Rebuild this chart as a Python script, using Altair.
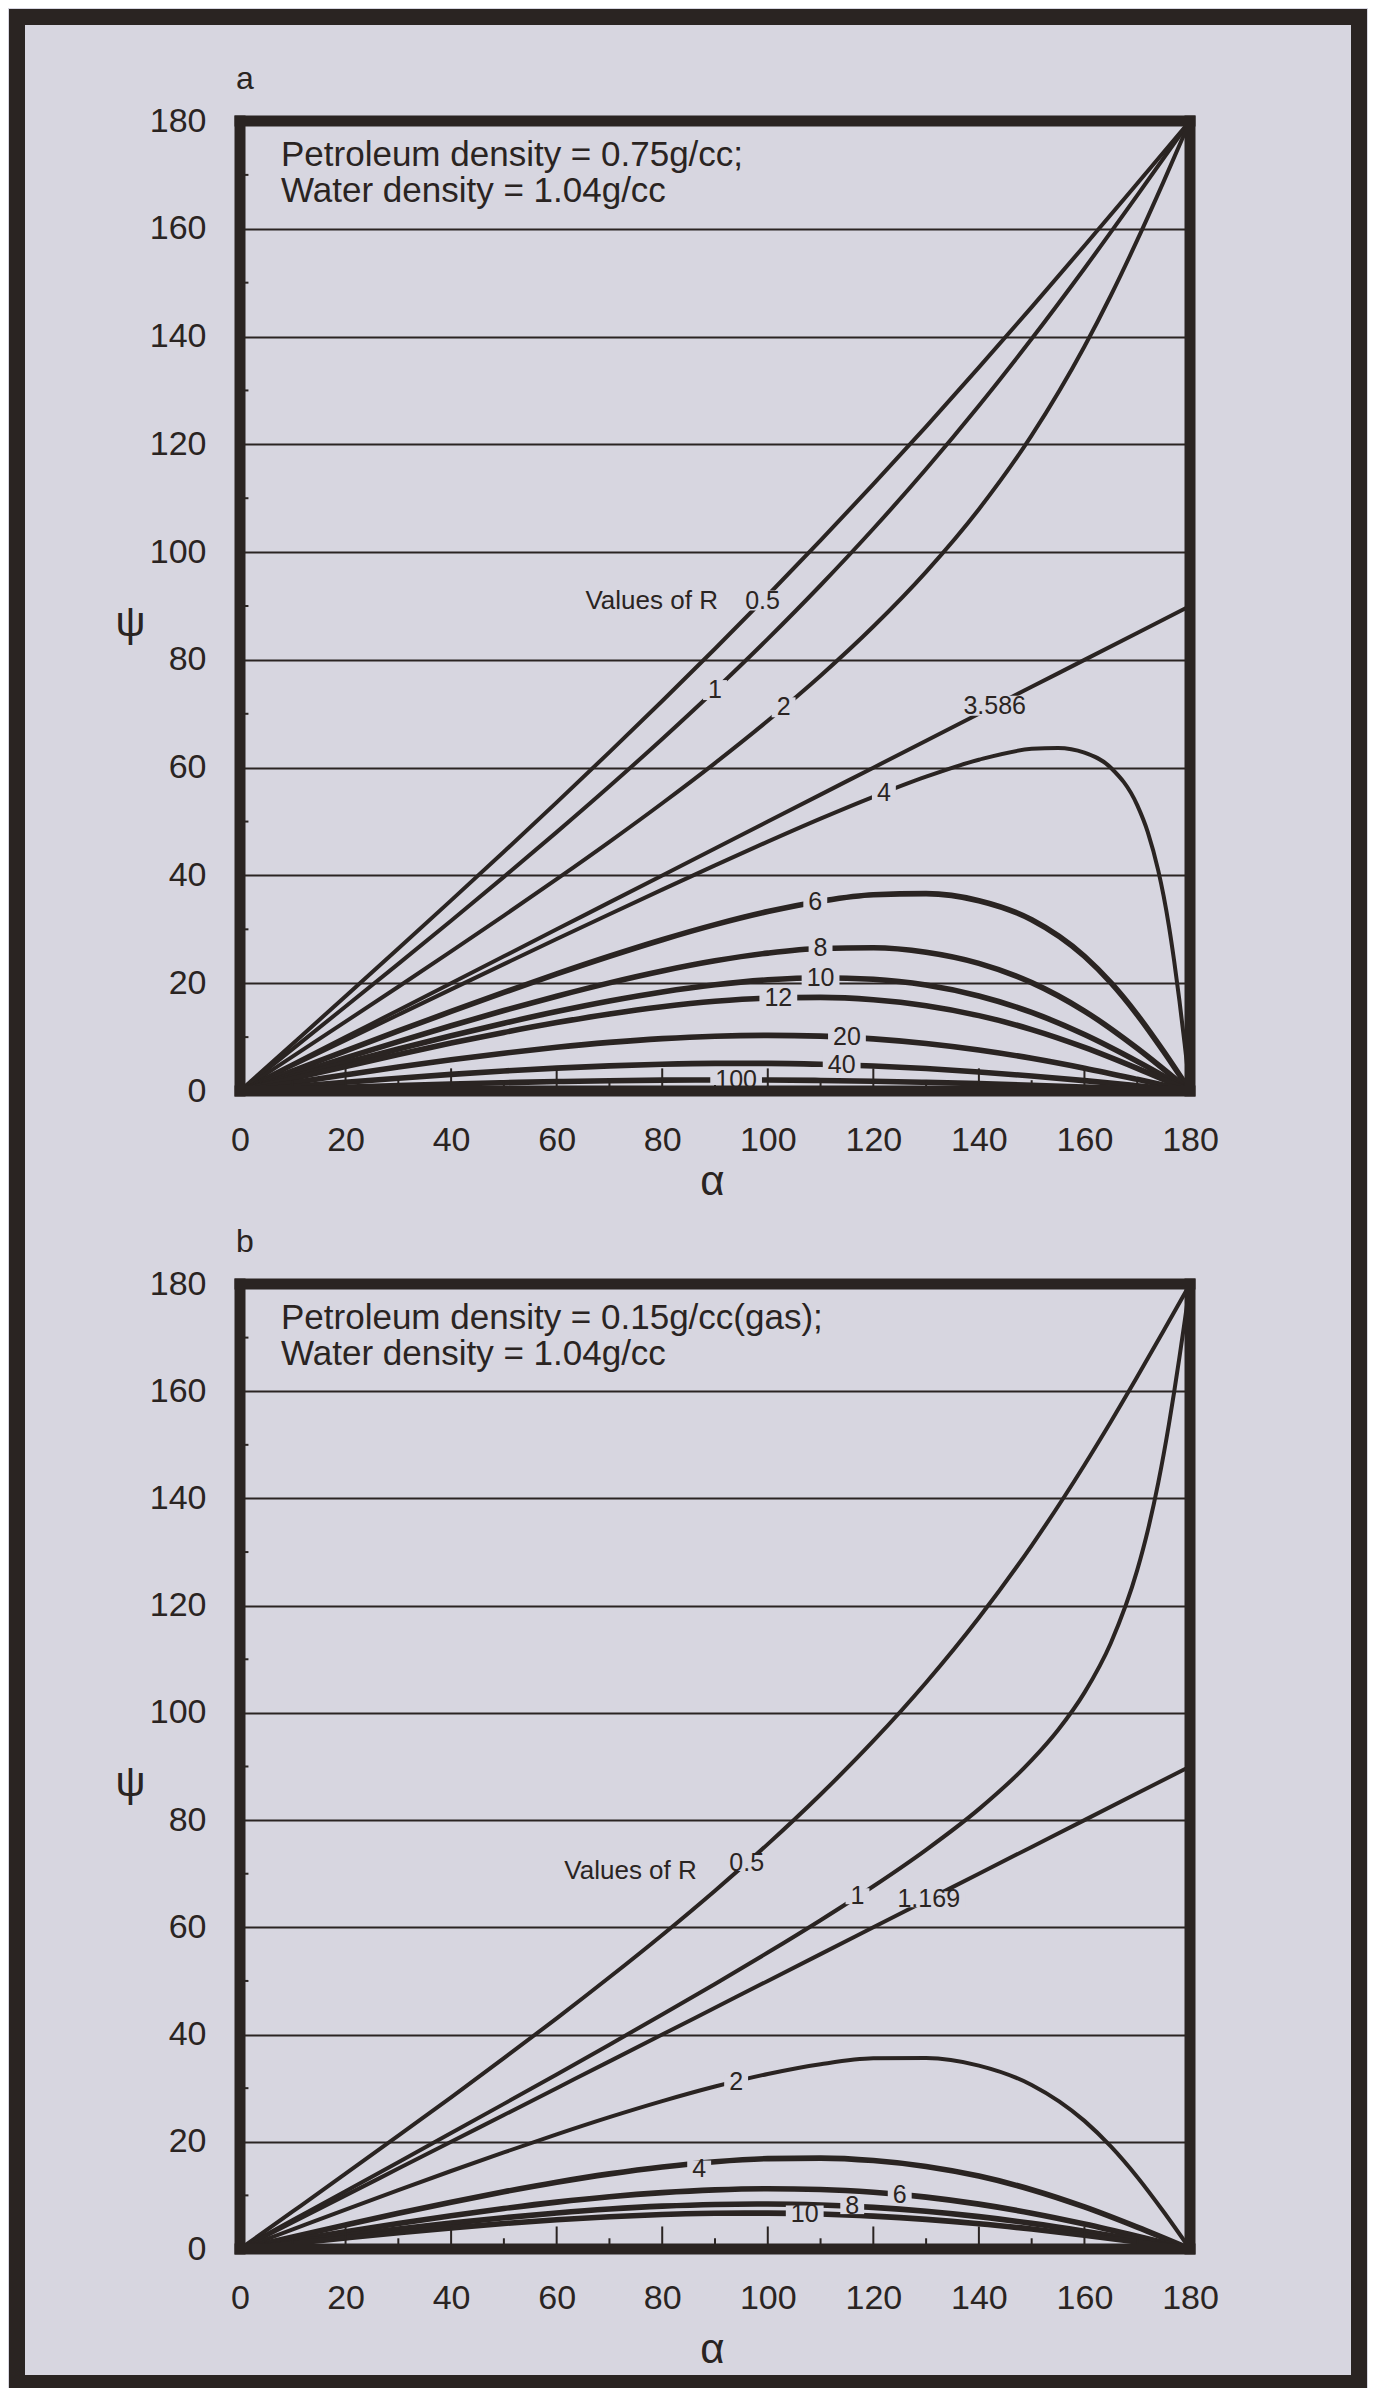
import altair as alt
import pandas as pd

BG = "#d7d6e0"
INK = "#2a2422"
FONT = "Liberation Sans"

# ---------------- data ----------------
AX_TICKS = [0, 20, 40, 60, 80, 100, 120, 140, 160, 180]
A_GRID = [0, 10, 20, 30, 40, 50, 60, 70, 80, 90, 100, 110, 120, 130, 140, 150, 160, 170, 180]
A_EXT = [0, 10, 20, 30, 40, 50, 60, 70, 80, 90, 100, 110, 120, 130, 140, 150, 160, 165, 170, 175, 180]
A_A4 = [0, 10, 20, 30, 40, 50, 60, 70, 80, 90, 100, 110, 120, 130, 140, 150, 155, 160, 165,
        170, 172, 174, 175, 176, 177, 178, 179, 180]
A_B1 = [0, 10, 20, 30, 40, 50, 60, 70, 80, 90, 100, 110, 120, 130, 140, 150, 155, 160, 165,
        170, 172, 174, 176, 177, 178, 179, 180]

# panel a  (petroleum 0.75 g/cc)
PA_R05 = [0, 8.78, 17.58, 26.44, 35.37, 44.40, 53.56, 62.88, 72.37, 82.06, 91.99, 102.17,
          112.6, 123.3, 134.27, 145.46, 156.86, 168.4, 180]
PA_R1 = [0, 7.82, 15.68, 23.60, 31.60, 39.73, 48.04, 56.55, 65.33, 74.42, 83.90, 93.85,
         104.33, 115.42, 127.16, 139.59, 152.64, 166.19, 180]
PA_R2 = [0, 6.42, 12.87, 19.35, 25.90, 32.54, 39.31, 46.24, 53.40, 60.85, 68.70, 77.07,
         86.19, 96.34, 107.96, 121.66, 138.16, 147.62, 157.88, 168.75, 180]
PA_R3586 = [0, 5, 10, 15, 20, 25, 30, 35, 40, 45, 50, 55, 60, 65, 70, 75, 80, 85, 90]
PA_R4 = [0, 4.73, 9.45, 14.16, 18.86, 23.54, 28.20, 32.81, 37.38, 41.88, 46.28, 50.55, 54.60,
         58.32, 61.47, 63.49, 63.67, 62.81, 59.99, 53.05, 48.05, 40.84, 36.19, 30.65, 24.12,
         16.75, 8.61, 0]
PA_R6 = [0, 3.74, 7.46, 11.14, 14.76, 18.30, 21.73, 25.00, 28.07, 30.87, 33.29, 35.22, 36.43,
         36.63, 35.32, 31.78, 25.00, 20.10, 14.16, 7.34, 0]
PA_R8 = [0, 3.09, 6.16, 9.17, 12.11, 14.93, 17.59, 20.06, 22.27, 24.15, 25.59, 26.45, 26.58,
         25.75, 23.69, 20.12, 14.84, 7.93, 0]
PA_R10 = [0, 2.63, 5.24, 7.79, 10.25, 12.58, 14.75, 16.71, 18.39, 19.72, 20.63, 21.01, 20.73,
          19.65, 17.63, 14.58, 10.48, 5.50, 0]
PA_R12 = [0, 2.30, 4.56, 6.77, 8.89, 10.87, 12.69, 14.30, 15.63, 16.64, 17.24, 17.37, 16.92,
          15.82, 13.99, 11.40, 8.09, 4.20, 0]
PA_R20 = [0, 1.52, 3.00, 4.44, 5.79, 7.02, 8.11, 9.02, 9.72, 10.17, 10.33, 10.18, 9.68, 8.82,
          7.61, 6.06, 4.22, 2.16, 0]
PA_R40 = [0, 0.82, 1.62, 2.38, 3.09, 3.72, 4.25, 4.67, 4.97, 5.12, 5.13, 4.97, 4.65, 4.17,
          3.54, 2.78, 1.92, 0.98, 0]
PA_R100 = [0, 0.34, 0.68, 1.00, 1.29, 1.54, 1.75, 1.91, 2.01, 2.05, 2.04, 1.95, 1.81, 1.61,
           1.36, 1.06, 0.73, 0.37, 0]

# panel b  (gas 0.15 g/cc)
PB_R05 = [0, 7.01, 14.04, 21.13, 28.30, 35.59, 43.02, 50.68, 58.58, 66.84, 75.52, 84.78,
          94.76, 105.67, 117.74, 131.22, 146.25, 154.31, 162.69, 171.28, 180]
PB_R1 = [0, 5.39, 10.78, 16.19, 21.62, 27.07, 32.57, 38.12, 43.73, 49.44, 55.29, 61.33, 67.66,
         74.46, 82.05, 91.17, 96.81, 103.78, 113.05, 126.62, 134.02, 143.00, 153.79, 159.88,
         166.34, 173.07, 180]
PB_R1169 = [0, 5, 10, 15, 20, 25, 30, 35, 40, 45, 50, 55, 60, 65, 70, 75, 80, 85, 90]
PB_R2 = [0, 3.68, 7.35, 10.98, 14.55, 18.02, 21.38, 24.59, 27.58, 30.30, 32.64, 34.46, 35.56,
         35.63, 34.21, 30.60, 23.90, 19.14, 13.44, 6.95, 0]
PB_R4 = [0, 2.26, 4.48, 6.65, 8.72, 10.67, 12.45, 14.01, 15.31, 16.29, 16.86, 16.96, 16.50,
         15.40, 13.60, 11.06, 7.84, 4.07, 0]
PB_R6 = [0, 1.63, 3.22, 4.76, 6.22, 7.55, 8.74, 9.74, 10.51, 11.02, 11.23, 11.09, 10.58, 9.68,
         8.37, 6.68, 4.66, 2.40, 0]
PB_R8 = [0, 1.27, 2.52, 3.71, 4.83, 5.84, 6.72, 7.45, 7.99, 8.31, 8.40, 8.22, 7.77, 7.04,
         6.04, 4.78, 3.31, 1.70, 0]
PB_R10 = [0, 1.04, 2.06, 3.04, 3.94, 4.76, 5.46, 6.03, 6.44, 6.67, 6.70, 6.53, 6.13, 5.53,
          4.72, 3.72, 2.57, 1.31, 0]

# curve labels
LAB_A_TEXT = ["0.5", "1", "2", "3.586", "4", "6", "8", "10", "12", "20", "40", "100"]
LAB_A_ALPHA = [99, 90, 103, 143, 122, 109, 110, 110, 102, 115, 114, 94]
LAB_A_PSI = [91.0, 74.4, 71.2, 71.5, 55.3, 35.0, 26.45, 21.0, 17.27, 9.95, 4.85, 2.05]
LAB_B_TEXT = ["0.5", "1", "1.169", "2", "4", "6", "8", "10"]
LAB_B_ALPHA = [96, 117, 130.5, 94, 87, 125, 116, 107]
LAB_B_PSI = [72.0, 65.8, 65.25, 31.2, 15.0, 10.1, 8.0, 6.6]
VALR_A = (78, 91)
VALR_B = (74, 70.5)

THICK_A = ["6", "8", "10", "12", "20", "40", "100"]
THICK_B = ["4", "6", "8", "10"]

MINOR_X = [10, 30, 50, 70, 90, 110, 130, 150, 170]
MAJOR_X = [20, 40, 60, 80, 100, 120, 140, 160]
MINOR_Y = [10, 30, 50, 70, 90, 110, 130, 150, 170]
FRAME_EDGES = [(0, 180, 0, 0), (0, 180, 180, 180), (0, 0, 0, 180), (180, 180, 0, 180)]

TEXT_A = ["Petroleum density = 0.75g/cc;", "Water density = 1.04g/cc"]
TEXT_B = ["Petroleum density = 0.15g/cc(gas);", "Water density = 1.04g/cc"]

# ---------------- build ----------------
W = 950
HA, HB = 970, 965
GAP = 193
ONE = alt.Data(values=[{"o": 1}])


def curves_df(curves):
    rows = []
    for name, al, ps in curves:
        for a, p in zip(al, ps):
            rows.append({"R": name, "alpha": a, "psi": p})
    return pd.DataFrame(rows)


def patches_df(texts, alphas, psis, h, hh_px):
    rows = []
    for t, a, p in zip(texts, alphas, psis):
        wpx = sum(7 if ch == "." else 13.9 for ch in t) + 10
        hw = wpx / 2 / (W / 180)
        hh = hh_px / (h / 180)
        rows.append({"t": t, "a": a, "p": p, "a1": a - hw, "a2": a + hw,
                     "p1": max(p - hh, 1.1), "p2": p + hh})
    return pd.DataFrame(rows)


def bar(x1, x2, y1, y2):
    return alt.Chart(ONE).mark_rect(color=INK).encode(
        x=alt.value(x1), x2=alt.value(x2), y=alt.value(y1), y2=alt.value(y2))


def panel(tag, curves, thick, labtxt, labal, labps, valr, texts, h, title_y, gap_px,
          bars):
    xs = alt.Scale(domain=[0, 180], nice=False, zero=False)
    ys = alt.Scale(domain=[0, 180], nice=False, zero=False)
    xax = alt.Axis(values=AX_TICKS, title="α", grid=False, domain=False, ticks=False,
                   labelPadding=32, labelFontSize=34, labelFont=FONT, labelColor=INK,
                   labelFlush=False, labelOverlap=False,
                   titleFont=FONT, titleFontSize=42, titleFontWeight="normal",
                   titleColor=INK, titleX=W / 2 - 3, titleY=title_y,
                   titleBaseline="middle", titleAlign="center")
    yax = alt.Axis(values=AX_TICKS, title="ψ", grid=True, gridColor=INK, gridWidth=2.2,
                   gridOpacity=1, domain=False, ticks=False, labelPadding=34,
                   labelFontSize=34, labelFont=FONT, labelColor=INK, labelOverlap=False,
                   titleFont=FONT, titleFontSize=42, titleFontWeight="normal",
                   titleColor=INK, titleAngle=0, titleX=-110, titleY=h * 0.517,
                   titleBaseline="middle", titleAlign="center")

    df = curves_df(curves)
    thin_df = df[~df["R"].isin(thick)]
    thick_df = df[df["R"].isin(thick)]
    lines_thin = alt.Chart(thin_df).mark_line(
        interpolate="monotone", strokeWidth=4.0, color=INK, strokeJoin="round"
    ).encode(
        x=alt.X("alpha:Q", scale=xs, axis=xax),
        y=alt.Y("psi:Q", scale=ys, axis=yax),
        detail="R:N",
    )
    lines_thick = alt.Chart(thick_df).mark_line(
        interpolate="monotone", strokeWidth=5.6, color=INK, strokeJoin="round"
    ).encode(x=alt.X("alpha:Q", scale=xs), y=alt.Y("psi:Q", scale=ys), detail="R:N")

    tick_rows = ([{"a": v, "y0": 0, "y1": 4.2} for v in MAJOR_X]
                 + [{"a": v, "y0": 0, "y1": 2.0} for v in MINOR_X])
    xticks = alt.Chart(pd.DataFrame(tick_rows)).mark_rule(color=INK, strokeWidth=2).encode(
        x=alt.X("a:Q", scale=xs), y=alt.Y("y0:Q", scale=ys), y2="y1:Q")
    yticks = alt.Chart(pd.DataFrame([{"p": v, "x0": 0, "x1": 1.6} for v in MINOR_Y])).mark_rule(
        color=INK, strokeWidth=2).encode(
        y=alt.Y("p:Q", scale=ys), x=alt.X("x0:Q", scale=xs), x2="x1:Q")

    pdf = patches_df(labtxt, labal, labps, h, gap_px)
    patches = alt.Chart(pdf).mark_rect(color=BG).encode(
        x=alt.X("a1:Q", scale=xs), x2="a2:Q", y=alt.Y("p1:Q", scale=ys), y2="p2:Q")
    labels = alt.Chart(pdf).mark_text(
        font=FONT, fontSize=25, color=INK, align="center", baseline="middle"
    ).encode(x=alt.X("a:Q", scale=xs), y=alt.Y("p:Q", scale=ys), text="t:N")
    valr_df = pd.DataFrame([{"a": valr[0], "p": valr[1], "t": "Values of R"}])
    valr_t = alt.Chart(valr_df).mark_text(
        font=FONT, fontSize=26, color=INK, align="center", baseline="middle"
    ).encode(x=alt.X("a:Q", scale=xs), y=alt.Y("p:Q", scale=ys), text="t:N")

    fdf = pd.DataFrame([{"x1": a, "x2": b, "y1": c, "y2": d} for a, b, c, d in FRAME_EDGES])
    frame = alt.Chart(fdf).mark_rule(color=INK, strokeWidth=11, strokeCap="square").encode(
        x=alt.X("x1:Q", scale=xs), x2="x2:Q", y=alt.Y("y1:Q", scale=ys), y2="y2:Q")

    ann = [
        alt.Chart(ONE).mark_text(font=FONT, fontSize=35, color=INK, align="left",
                                 baseline="middle").encode(
            x=alt.value(41), y=alt.value(34 + 36 * i), text=alt.value(t))
        for i, t in enumerate(texts)
    ]
    tag_t = alt.Chart(ONE).mark_text(font=FONT, fontSize=32, color=INK, align="left",
                                     baseline="middle").encode(
        x=alt.value(-4), y=alt.value(-42), text=alt.value(tag))

    fr = [bar(*b) for b in bars]

    return alt.layer(lines_thin, lines_thick, xticks, yticks, patches, labels, valr_t,
                     frame, *ann, tag_t, *fr).properties(width=W, height=h)


curves_a = [("0.5", A_GRID, PA_R05), ("1", A_GRID, PA_R1), ("2", A_EXT, PA_R2),
            ("3.586", A_GRID, PA_R3586), ("4", A_A4, PA_R4), ("6", A_EXT, PA_R6),
            ("8", A_GRID, PA_R8), ("10", A_GRID, PA_R10), ("12", A_GRID, PA_R12),
            ("20", A_GRID, PA_R20), ("40", A_GRID, PA_R40), ("100", A_GRID, PA_R100)]
curves_b = [("0.5", A_EXT, PB_R05), ("1", A_B1, PB_R1), ("1.169", A_GRID, PB_R1169),
            ("2", A_EXT, PB_R2), ("4", A_GRID, PB_R4), ("6", A_GRID, PB_R6),
            ("8", A_GRID, PB_R8), ("10", A_GRID, PB_R10)]

# whole outer photographic frame drawn once, relative to panel a's plot area
BOTTOM = HA + GAP + HB + 142
bars_a = [(-231, 1127, -112, -96), (-231, -215, -112, BOTTOM),
          (1111, 1127, -112, BOTTOM), (-231, 1127, BOTTOM - 16, BOTTOM)]

pa = panel("a", curves_a, THICK_A, LAB_A_TEXT, LAB_A_ALPHA, LAB_A_PSI, VALR_A, TEXT_A, HA,
           90, 10, bars_a)
pb = panel("b", curves_b, THICK_B, LAB_B_TEXT, LAB_B_ALPHA, LAB_B_PSI, VALR_B, TEXT_B, HB,
           100, 8, [])

chart = alt.vconcat(pa, pb, spacing=GAP, bounds="flush").properties(
    padding=0, background=BG
).configure_view(strokeWidth=0).configure(font=FONT)

chart.save("out.html", embed_options={"renderer": "svg", "actions": False})
